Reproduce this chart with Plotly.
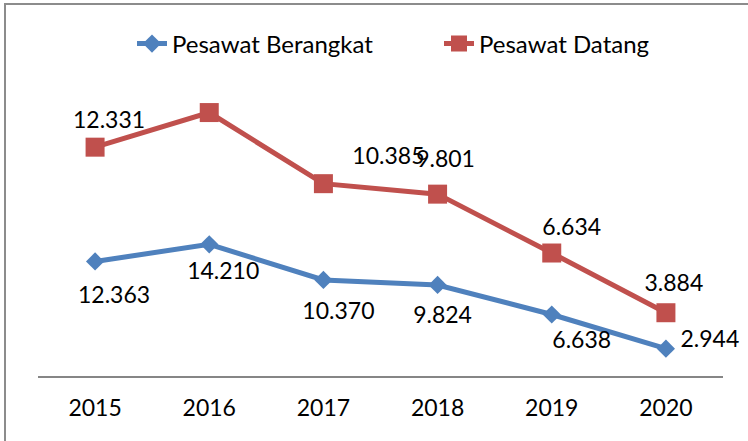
import plotly.graph_objects as go

years = ["2015", "2016", "2017", "2018", "2019", "2020"]
berangkat = [12363, 14210, 10370, 9824, 6638, 2944]
datang = [12331, 14219, 10385, 9801, 6634, 3884]
berangkat_labels = ["12.363", "14.210", "10.370", "9.824", "6.638", "2.944"]
datang_labels = ["12.331", "14.219", "10.385", "9.801", "6.634", "3.884"]

# label offsets (pixels) as placed in the original chart
blue_dx = [19, 14, 15, 5, 30, 44]
blue_dy = [-36, -29, -33, -32, -28, 7]
red_dx = [14, 9, 65, 8, 20, 8]
red_dy = [25, 28, 25, 33, 24, 27]

BLUE = "#4F81BD"
RED = "#C0504D"
FONT = "Lato"

W, H = 748, 441
# plot area in page pixels
PX0, PX1, PY0, PY1 = 38, 723, 98, 376
YMAX = 30000
px_per_cat = (PX1 - PX0) / len(years)
units_per_px = YMAX / (PY1 - PY0)

idx = list(range(len(years)))
# stacked line chart: second series sits on top of the first
datang_stacked = [b + d for b, d in zip(berangkat, datang)]

fig = go.Figure()
fig.add_trace(go.Scatter(
    x=idx, y=berangkat, name="Pesawat Berangkat", mode="lines+markers",
    stackgroup="s", fill="none",
    line=dict(color=BLUE, width=5),
    marker=dict(symbol="diamond", size=14, color=BLUE),
))
fig.add_trace(go.Scatter(
    x=idx, y=datang, name="Pesawat Datang", mode="lines+markers",
    stackgroup="s", fill="none",
    line=dict(color=RED, width=5),
    marker=dict(symbol="square", size=19, color=RED),
))

# data labels
fig.add_trace(go.Scatter(
    x=[i + dx / px_per_cat for i, dx in zip(idx, blue_dx)],
    y=[v + dy * units_per_px for v, dy in zip(berangkat, blue_dy)],
    text=berangkat_labels, mode="text", showlegend=False, hoverinfo="skip",
    textposition="middle center", cliponaxis=False,
    textfont=dict(family=FONT, size=23, color="black"),
))
fig.add_trace(go.Scatter(
    x=[i + dx / px_per_cat for i, dx in zip(idx, red_dx)],
    y=[v + dy * units_per_px for v, dy in zip(datang_stacked, red_dy)],
    text=datang_labels, mode="text", showlegend=False, hoverinfo="skip",
    textposition="middle center", cliponaxis=False,
    textfont=dict(family=FONT, size=23, color="black"),
))

# chart frame (only top and left edges visible), on a full-page pixel overlay
fig.add_trace(go.Scatter(
    x=[5, 5, W + 5], y=[H + 5, 4, 4], xaxis="x2", yaxis="y2",
    mode="lines", line=dict(color="#8c8c8c", width=2),
    showlegend=False, hoverinfo="skip",
))

fig.update_layout(
    width=W, height=H,
    margin=dict(l=0, r=0, t=0, b=0, autoexpand=False),
    paper_bgcolor="white", plot_bgcolor="rgba(0,0,0,0)",
    font=dict(family=FONT, size=22, color="black"),
    showlegend=True,
    legend=dict(orientation="h", x=132 / W, xanchor="left",
                y=1 - 44 / H, yanchor="middle",
                entrywidth=262, entrywidthmode="pixels",
                bgcolor="rgba(0,0,0,0)",
                font=dict(family=FONT, size=24, color="black"),
                traceorder="normal"),
    xaxis=dict(domain=[PX0 / W, PX1 / W], range=[-0.5, 5.5],
               tickmode="array", tickvals=idx, ticktext=years,
               showgrid=False, showline=True, linecolor="#868686", linewidth=1.5,
               ticks="outside", ticklen=11, tickcolor="rgba(0,0,0,0)",
               tickfont=dict(family=FONT, size=23, color="black"),
               zeroline=False),
    yaxis=dict(domain=[1 - PY1 / H, 1 - PY0 / H], range=[0, YMAX],
               showticklabels=False, showline=False,
               showgrid=False, zeroline=False, ticks=""),
    xaxis2=dict(domain=[0, 1], range=[0, W], visible=False, anchor="y2"),
    yaxis2=dict(domain=[0, 1], range=[H, 0], visible=False, anchor="x2"),
)

fig.write_html("out.html", config={"displayModeBar": False},
               post_script="document.body.style.margin='0px';")
